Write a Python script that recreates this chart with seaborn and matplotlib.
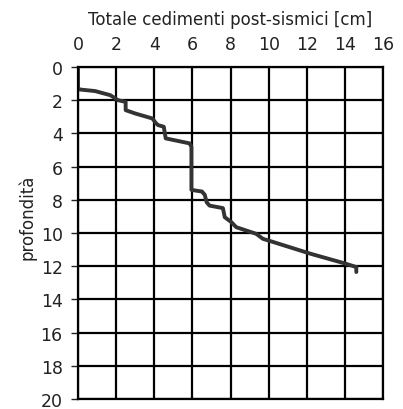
import matplotlib
matplotlib.use("Agg")
import matplotlib.pyplot as plt
import seaborn as sns
import pandas as pd

# settlement (cm) vs depth
cedimento = [0, 0, 0.05, 0.9, 1.7, 2.1, 2.5, 2.5, 3.0, 3.9, 4.1, 4.2, 4.5, 4.6,
             5.85, 5.95, 5.95, 6.2, 6.5, 6.65, 6.75, 6.9, 7.6, 7.7, 8.05, 8.3,
             9.35, 9.7, 10.4, 12.2, 13.9, 14.6, 14.6]
profondita = [0.1, 1.2, 1.35, 1.45, 1.7, 2.0, 2.1, 2.6, 2.8, 3.1, 3.4, 3.5, 3.6, 4.3,
              4.6, 4.8, 7.4, 7.45, 7.5, 7.7, 8.15, 8.35, 8.5, 9.05, 9.35, 9.65,
              10.05, 10.35, 10.6, 11.25, 11.8, 12.05, 12.35]
x_ticks = [0, 2, 4, 6, 8, 10, 12, 14, 16]
y_ticks = [0, 2, 4, 6, 8, 10, 12, 14, 16, 18, 20]

df = pd.DataFrame({"x": cedimento, "y": profondita})

sns.set_style("white")
plt.rcParams['font.family'] = ['DejaVu Sans']

fig = plt.figure(figsize=(4.03, 4.10), dpi=100)
ax = fig.add_axes([78/403, 1-400/410, (383-78)/403, (400-68)/410])

sns.lineplot(data=df, x="x", y="y", sort=False, estimator=None, ax=ax,
             color="#333333", linewidth=2.8)

ax.set_xlim(0, 16)
ax.set_ylim(20, 0)
ax.set_xticks(x_ticks)
ax.set_yticks(y_ticks)
ax.xaxis.tick_top()
ax.xaxis.set_label_position("top")
ax.tick_params(axis="x", length=0, labelsize=12.5, pad=10, colors="#222222")
ax.tick_params(axis="y", length=5, width=1, labelsize=12.5, pad=6, colors="#222222", left=True)
ax.grid(True, color="black", linewidth=1.6)
ax.set_axisbelow(True)
for s in ax.spines.values():
    s.set_color("black")
    s.set_linewidth(1.6)

ax.set_xlabel("Totale cedimenti post-sismici [cm]", fontsize=12, labelpad=8, color="#222222")
ax.set_ylabel("profondità", fontsize=12, color="#222222")
ax.yaxis.set_label_coords(-0.135, 0.55)

fig.savefig("out.png", dpi=100)
